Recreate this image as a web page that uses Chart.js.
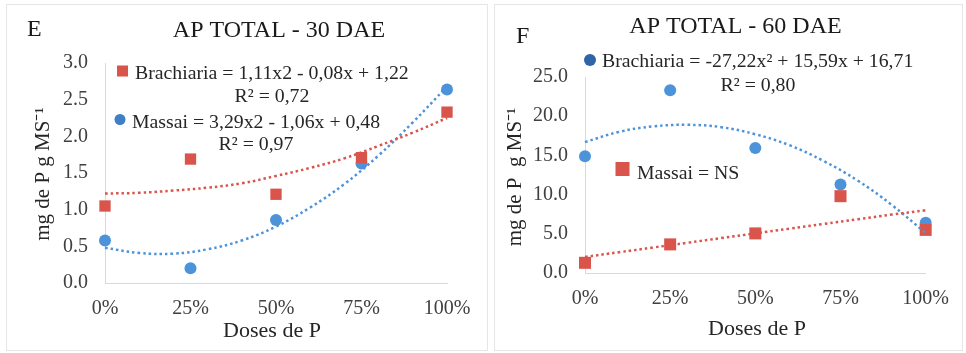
<!DOCTYPE html>
<html>
<head>
<meta charset="utf-8">
<script src="https://cdn.jsdelivr.net/npm/chart.js@4.4.1/dist/chart.umd.min.js"></script>
<style>
  html, body { margin: 0; padding: 0; background: #ffffff; }
  body { width: 966px; height: 353px; position: relative; overflow: hidden; }
  .panel { position: absolute; border: 1px solid #e6e6e6; box-sizing: border-box; background: #fff; }
  canvas { position: absolute; }
</style>
</head>
<body>
<div class="panel" style="left:6px;top:4px;width:482px;height:347px;"></div>
<div class="panel" style="left:494px;top:4px;width:469px;height:347px;"></div>
<canvas id="chartE" width="482" height="345" style="left:6px;top:5px;"></canvas>
<canvas id="chartF" width="468" height="345" style="left:495px;top:5px;"></canvas>
<script>
// ---- Data ----
const doses = [0, 25, 50, 75, 100];
const doseLabels = ['0%', '25%', '50%', '75%', '100%'];

// Panel E (30 DAE)
const eBrachiaria = [1.05, 1.69, 1.21, 1.71, 2.33];
const eMassai = [0.58, 0.20, 0.86, 1.63, 2.64];
const trendX = [0, 10, 20, 30, 40, 50, 60, 70, 80, 90, 100];
const eBrachiariaTrend = [1.22, 1.23, 1.26, 1.30, 1.36, 1.46, 1.57, 1.70, 1.87, 2.05, 2.25];
const eMassaiTrend = [0.48, 0.41, 0.40, 0.46, 0.58, 0.77, 1.03, 1.35, 1.74, 2.19, 2.68];
const eYTicks = ['0.0', '0.5', '1.0', '1.5', '2.0', '2.5', '3.0'];

// Panel F (60 DAE)
const fBrachiaria = [14.9, 23.3, 15.95, 11.3, 6.4];
const fMassai = [1.3, 3.65, 5.05, 9.8, 5.5];
const fBrachiariaTrend = [16.7, 18.0, 18.7, 18.9, 18.6, 17.7, 16.3, 14.3, 11.8, 8.7, 5.1];
const fMassaiTrend = [2.05, 2.65, 3.25, 3.85, 4.45, 5.05, 5.65, 6.25, 6.85, 7.45, 8.0];
const fYTicks = ['0.0', '5.0', '10.0', '15.0', '20.0', '25.0'];

const RED = '#d9544b';
const BLUE = '#4d93d9';
const FONT = '"Liberation Serif", "Times New Roman", serif';

function pts(xs, ys) { return xs.map((x, i) => ({ x: x, y: ys[i] })); }

function textPlugin(items, offX, offY) {
  return {
    id: 'texts',
    afterDraw(chart) {
      const ctx = chart.ctx;
      ctx.save();
      items.forEach(it => {
        const x = it.x - offX, y = it.y - offY;
        if (it.marker === 'rect') {
          ctx.fillStyle = it.color;
          ctx.fillRect(x - it.size / 2, y - it.size / 2, it.size, it.size);
          return;
        }
        if (it.marker === 'circle') {
          ctx.fillStyle = it.color;
          ctx.beginPath(); ctx.arc(x, y, it.size / 2, 0, Math.PI * 2); ctx.fill();
          return;
        }
        ctx.font = it.font;
        ctx.fillStyle = it.color || '#262626';
        ctx.textAlign = it.align || 'left';
        ctx.textBaseline = 'alphabetic';
        if (it.rotate) {
          ctx.save();
          ctx.translate(x, y);
          ctx.rotate(-Math.PI / 2);
          ctx.textBaseline = 'middle';
          ctx.fillText(it.text, 0, 0);
          ctx.restore();
        } else {
          ctx.fillText(it.text, x, y);
        }
      });
      ctx.restore();
    }
  };
}

function makeChart(id, cfg) {
  const trendDs = (data, color) => ({
    type: 'line', data: data, borderColor: color, borderWidth: 2.5,
    borderDash: [2.5, 3], pointRadius: 0, tension: 0.4, fill: false, clip: false
  });
  return new Chart(document.getElementById(id), {
    type: 'scatter',
    data: {
      datasets: [
        trendDs(pts(trendX, cfg.trendA), cfg.colorA),
        trendDs(pts(trendX, cfg.trendB), cfg.colorB),
        { data: pts(doses, cfg.seriesA), pointStyle: cfg.styleA, pointRadius: cfg.radA,
          backgroundColor: cfg.colorA, borderColor: cfg.colorA, borderWidth: 0, clip: false },
        { data: pts(doses, cfg.seriesB), pointStyle: cfg.styleB, pointRadius: cfg.radB,
          backgroundColor: cfg.colorB, borderColor: cfg.colorB, borderWidth: 0, clip: false }
      ]
    },
    options: {
      responsive: false, animation: false, devicePixelRatio: 1,
      layout: { padding: { left: 0, right: cfg.padRight, top: cfg.padTop, bottom: 0 } },
      plugins: { legend: { display: false }, tooltip: { enabled: false } },
      scales: {
        x: {
          type: 'linear', min: 0, max: 100,
          afterFit: s => { s.height = cfg.xHeight; },
          afterBuildTicks: s => { s.ticks = doses.map(v => ({ value: v })); },
          grid: { display: false, drawTicks: false },
          border: { display: true, color: '#d9d9d9', width: 1 },
          ticks: { padding: 14, color: '#404040', font: { family: FONT, size: 20 },
                   callback: v => doseLabels[doses.indexOf(v)], maxRotation: 0, autoSkip: false }
        },
        y: {
          min: 0, max: cfg.yMax,
          afterFit: s => { s.width = cfg.yWidth; },
          afterBuildTicks: s => { s.ticks = cfg.yTicks.map(t => ({ value: parseFloat(t) })); },
          grid: { display: false, drawTicks: false },
          border: { display: true, color: '#d9d9d9', width: 1 },
          ticks: { padding: 17, color: '#404040', font: { family: FONT, size: 20 },
                   callback: v => cfg.yTicks[cfg.yTicks.map(parseFloat).indexOf(v)] }
        }
      }
    },
    plugins: [textPlugin(cfg.texts, cfg.offX, cfg.offY)]
  });
}

const F_LETTER = '24px ' + FONT;
const F_TITLE = '24px ' + FONT;
const F_EQ = '19.8px ' + FONT;
const F_AX = '21px ' + FONT;
const F_AXX = '22px ' + FONT;

makeChart('chartE', {
  seriesA: eBrachiaria, seriesB: eMassai, trendA: eBrachiariaTrend, trendB: eMassaiTrend,
  colorA: RED, colorB: BLUE, styleA: 'rect', styleB: 'circle', radA: 8, radB: 6,
  yMax: 3, yTicks: eYTicks, yWidth: 99, xHeight: 67, padRight: 41, padTop: 58,
  offX: 6, offY: 5,
  texts: [
    { text: 'E', x: 27, y: 36, font: F_LETTER, color: '#1a1a1a' },
    { text: 'AP TOTAL - 30 DAE', x: 279, y: 37, font: F_TITLE, align: 'center', color: '#1a1a1a' },
    { marker: 'rect', x: 122.5, y: 71, size: 11, color: RED },
    { text: 'Brachiaria = 1,11x2 - 0,08x + 1,22', x: 135, y: 79, font: F_EQ },
    { text: 'R² = 0,72', x: 272, y: 101.5, font: F_EQ, align: 'center' },
    { marker: 'circle', x: 120, y: 119.5, size: 11, color: '#3f7fc4' },
    { text: 'Massai = 3,29x2 - 1,06x + 0,48', x: 132, y: 127.5, font: F_EQ },
    { text: 'R² = 0,97', x: 256, y: 150, font: F_EQ, align: 'center' },
    { text: 'mg de P g MS⁻¹', x: 43, y: 174, font: F_AX, align: 'center', rotate: true },
    { text: 'Doses de P', x: 272, y: 337, font: F_AXX, align: 'center' }
  ]
});

makeChart('chartF', {
  seriesA: fMassai, seriesB: fBrachiaria, trendA: fMassaiTrend, trendB: fBrachiariaTrend,
  colorA: RED, colorB: BLUE, styleA: 'rect', styleB: 'circle', radA: 8.5, radB: 6,
  yMax: 25, yTicks: fYTicks, yWidth: 90, xHeight: 77, padRight: 36, padTop: 72,
  offX: 495, offY: 5,
  texts: [
    { text: 'F', x: 516, y: 43, font: F_LETTER, color: '#1a1a1a' },
    { text: 'AP TOTAL - 60 DAE', x: 735.5, y: 33, font: F_TITLE, align: 'center', color: '#1a1a1a' },
    { marker: 'circle', x: 590, y: 60, size: 12, color: '#2f64a8' },
    { text: 'Brachiaria = -27,22x² + 15,59x + 16,71', x: 602, y: 67, font: F_EQ },
    { text: 'R² = 0,80', x: 758, y: 90.5, font: F_EQ, align: 'center' },
    { marker: 'rect', x: 622.5, y: 169, size: 14, color: RED },
    { text: 'Massai = NS', x: 637, y: 179, font: F_EQ },
    { text: 'mg de P  g MS⁻¹', x: 515, y: 177, font: F_AX, align: 'center', rotate: true },
    { text: 'Doses de P', x: 757, y: 335, font: F_AXX, align: 'center' }
  ]
});
</script>
</body>
</html>
